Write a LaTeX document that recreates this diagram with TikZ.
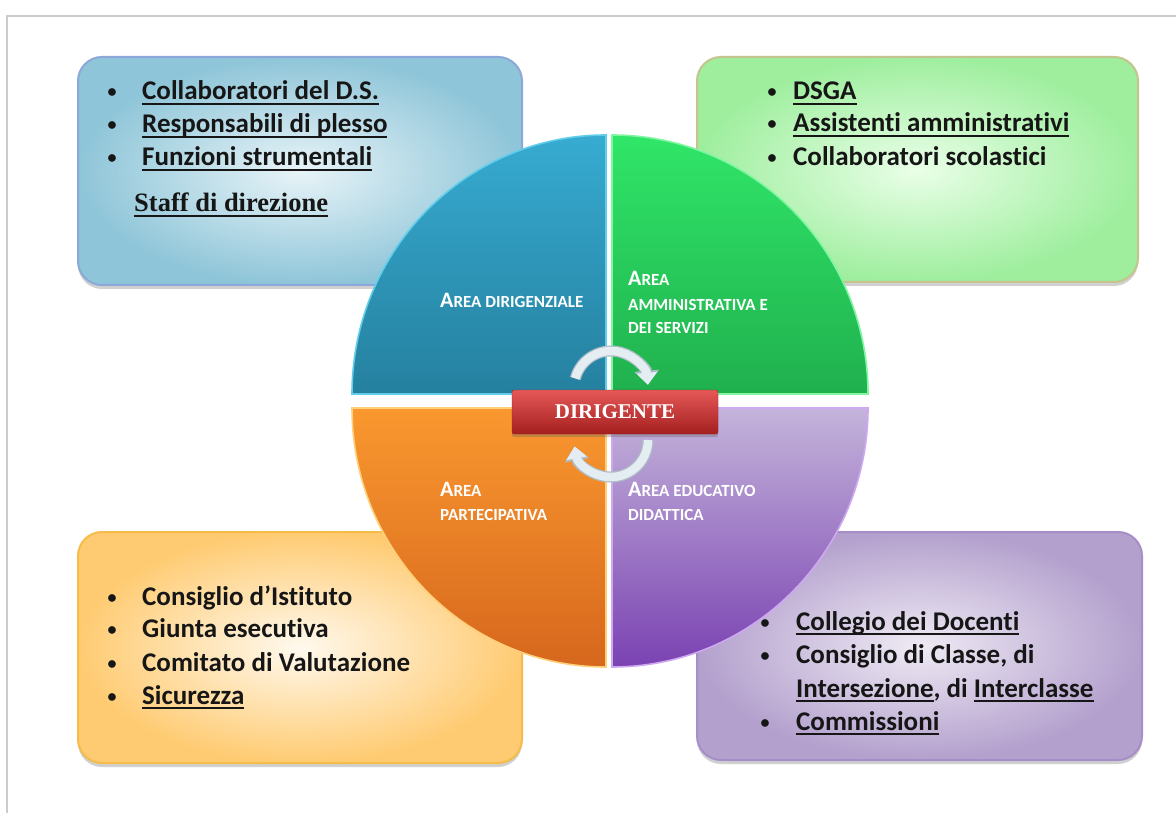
\documentclass[tikz,border=0pt]{standalone}
\usepackage{fontspec}
\setmainfont{Carlito}[Ligatures={NoCommon,NoRequired,NoContextual}]
\newfontfamily\serifb{Liberation Serif}
\usetikzlibrary{shadows,arrows.meta}
\newcommand\myul[1]{\leavevmode{\setbox0=\hbox{#1}\rlap{\vrule width \wd0 height -3.2pt depth 5.0pt}\box0}}
\definecolor{txt}{HTML}{161616}
\definecolor{tlEdge}{HTML}{8EC5D8}
\definecolor{tlIn}{HTML}{E8F4F8}
\definecolor{tlLine}{HTML}{8BA8D8}
\definecolor{trEdge}{HTML}{9EEE9E}
\definecolor{trIn}{HTML}{EAFFE8}
\definecolor{trLine}{HTML}{C6C48E}
\definecolor{blEdge}{HTML}{FFCB72}
\definecolor{blIn}{HTML}{FFF9EE}
\definecolor{blLine}{HTML}{F6BC4A}
\definecolor{brEdge}{HTML}{B3A0CD}
\definecolor{brIn}{HTML}{EFEAF4}
\definecolor{brLine}{HTML}{A78EC8}
\definecolor{qbT}{HTML}{37ABD1}
\definecolor{qbB}{HTML}{25809F}
\definecolor{qbR}{HTML}{62CDEA}
\definecolor{qgT}{HTML}{30E668}
\definecolor{qgB}{HTML}{20B04E}
\definecolor{qgR}{HTML}{80F5A2}
\definecolor{qoT}{HTML}{FA982F}
\definecolor{qoB}{HTML}{D6671D}
\definecolor{qoR}{HTML}{FFCF7A}
\definecolor{qpT}{HTML}{C4B4DA}
\definecolor{qpB}{HTML}{7A42B2}
\definecolor{qpR}{HTML}{CFA8F2}
\definecolor{cyc}{HTML}{E4EDF1}
\definecolor{cycO}{HTML}{AEBDC6}
\definecolor{redT}{HTML}{E65858}
\definecolor{redM}{HTML}{CC3434}
\definecolor{redB}{HTML}{A41F1F}
\definecolor{frameC}{HTML}{CCCCCC}
\newcommand\capA[1]{{\fontsize{22}{24}\selectfont #1}}
\newcommand\capS[1]{{\fontsize{17}{20}\selectfont #1}}
\tikzset{
  infobox/.style={rounded corners=24pt, line width=2pt,
    drop shadow={shadow xshift=0pt, shadow yshift=-4pt, opacity=0.3, fill=black!60}},
  item/.style={anchor=base west, inner sep=0pt, text=txt,
    font=\fontsize{27}{32}\selectfont\bfseries},
  bul/.style={anchor=base, inner sep=0pt, text=txt,
    font=\fontsize{18}{22}\selectfont\bfseries},
  staff/.style={anchor=base west, inner sep=0pt, text=txt,
    font=\serifb\bfseries\fontsize{26.5}{30}\selectfont},
  arealab/.style={anchor=base west, inner sep=0pt, text=white, font=\bfseries},
  quad/.style={line width=1.6pt},
  cycout/.style={line width=11pt, draw=cycO, -{Triangle[width=24pt,length=14pt]}},
  cycarrow/.style={line width=8.5pt, draw=cyc, -{Triangle[width=20pt,length=12pt]}},
  dirbox/.style={rounded corners=2pt, minimum width=206pt, minimum height=44pt,
    top color=redT, middle color=redM, bottom color=redB, draw=redB,
    text=white, font=\serifb\bfseries\fontsize{21}{24}\selectfont,
    drop shadow={shadow xshift=0pt, shadow yshift=-3pt, opacity=0.35, fill=black!60}},
  frame/.style={draw=frameC, line width=1.5pt}
}
\begin{document}
\begin{tikzpicture}[x=1pt,y=-1pt]
\useasboundingbox[fill=white] (0,0) rectangle (1176,813);
% frame
\coordinate (f1) at (7,813);
\coordinate (f2) at (7,16);
\coordinate (f3) at (1176,16);
\draw[frame] (f1) -- (f2) -- (f3);

% boxes
\node[infobox, draw=tlLine, inner color=tlIn, outer color=tlEdge,
  minimum width=444pt, minimum height=228pt] (boxTL) at (300,171) {};
\node[infobox, draw=trLine, inner color=trIn, outer color=trEdge,
  minimum width=441pt, minimum height=225pt] (boxTR) at (917.5,169.5) {};
\node[infobox, draw=blLine, inner color=blIn, outer color=blEdge,
  minimum width=444pt, minimum height=231pt] (boxBL) at (300,647.5) {};
\node[infobox, draw=brLine, inner color=brIn, outer color=brEdge,
  minimum width=445pt, minimum height=228pt] (boxBR) at (919.5,646) {};

% top-left text
\node[bul] (tlb1) at (112,98) {•};
\node[bul] (tlb2) at (112,131) {•};
\node[bul] (tlb3) at (112,164) {•};
\node[item] (tlt1) at (142,100) {\myul{Collaboratori del D.S.}};
\node[item] (tlt2) at (142,133) {\myul{Responsabili di plesso}};
\node[item] (tlt3) at (142,166) {\myul{Funzioni strumentali}};
\node[staff] (tlt4) at (134,212) {\myul{Staff di direzione}};

% top-right text
\node[bul] (trb1) at (772,98) {•};
\node[bul] (trb2) at (772,130) {•};
\node[bul] (trb3) at (772,164) {•};
\node[item] (trt1) at (793,100) {\myul{DSGA}};
\node[item] (trt2) at (793,132) {\myul{Assistenti amministrativi}};
\node[item] (trt3) at (793,166) {Collaboratori scolastici};

% bottom-left text
\node[bul] (blb1) at (112,603) {•};
\node[bul] (blb2) at (112,635) {•};
\node[bul] (blb3) at (112,669) {•};
\node[bul] (blb4) at (112,702) {•};
\node[item] (blt1) at (142,605) {Consiglio d’Istituto};
\node[item] (blt2) at (142,637) {Giunta esecutiva};
\node[item] (blt3) at (142,671) {Comitato di Valutazione};
\node[item] (blt4) at (142,704) {\myul{Sicurezza}};

% bottom-right text
\node[bul] (brb1) at (765,628) {•};
\node[bul] (brb2) at (765,661) {•};
\node[bul] (brb3) at (765,728) {•};
\node[item] (brt1) at (796,630) {\myul{Collegio dei Docenti}};
\node[item] (brt2) at (796,663) {Consiglio di Classe, di};
\node[item] (brt3) at (796,697) {\myul{Intersezione}, di \myul{Interclasse}};
\node[item] (brt4) at (796,730) {\myul{Commissioni}};

% quadrants
\path[quad, top color=qbT, bottom color=qbB, draw=qbR]
  (606,394) -- (352,394) arc[start angle=180, end angle=270, x radius=254, y radius=259] -- cycle;
\path[quad, top color=qgT, bottom color=qgB, draw=qgR]
  (612,394) -- (612,135) arc[start angle=270, end angle=360, x radius=256, y radius=259] -- cycle;
\path[quad, top color=qoT, bottom color=qoB, draw=qoR]
  (606,408) -- (352,408) arc[start angle=180, end angle=90, x radius=254, y radius=259] -- cycle;
\path[quad, top color=qpT, bottom color=qpB, draw=qpR]
  (612,408) -- (868,408) arc[start angle=0, end angle=90, x radius=256, y radius=259] -- cycle;

% area labels
\node[arealab] (aDir) at (440,308) {\capA{A}\capS{REA DIRIGENZIALE}};
\node[arealab] (aAm1) at (628,286) {\capA{A}\capS{REA}};
\node[arealab] (aAm2) at (628,310) {\capS{AMMINISTRATIVA E}};
\node[arealab] (aAm3) at (628,334) {\capS{DEI SERVIZI}};
\node[arealab] (aPa1) at (440,496) {\capA{A}\capS{REA}};
\node[arealab] (aPa2) at (440,520) {\capS{PARTECIPATIVA}};
\node[arealab] (aEd1) at (628,496) {\capA{A}\capS{REA EDUCATIVO}};
\node[arealab] (aEd2) at (628,520) {\capS{DIDATTICA}};

% cycle arrows
\coordinate (cT) at (575.3,378.4);
\coordinate (cB) at (648,440);
\draw[cycout] (cT) arc[start angle=195, end angle=355, radius=37];
\draw[cycarrow] (cT) arc[start angle=195, end angle=355, radius=37];
\draw[cycout] (cB) arc[start angle=0, end angle=170, radius=37];
\draw[cycarrow] (cB) arc[start angle=0, end angle=170, radius=37];

% dirigente
\node[dirbox] (dir) at (615,412) {DIRIGENTE};
\end{tikzpicture}
\end{document}
